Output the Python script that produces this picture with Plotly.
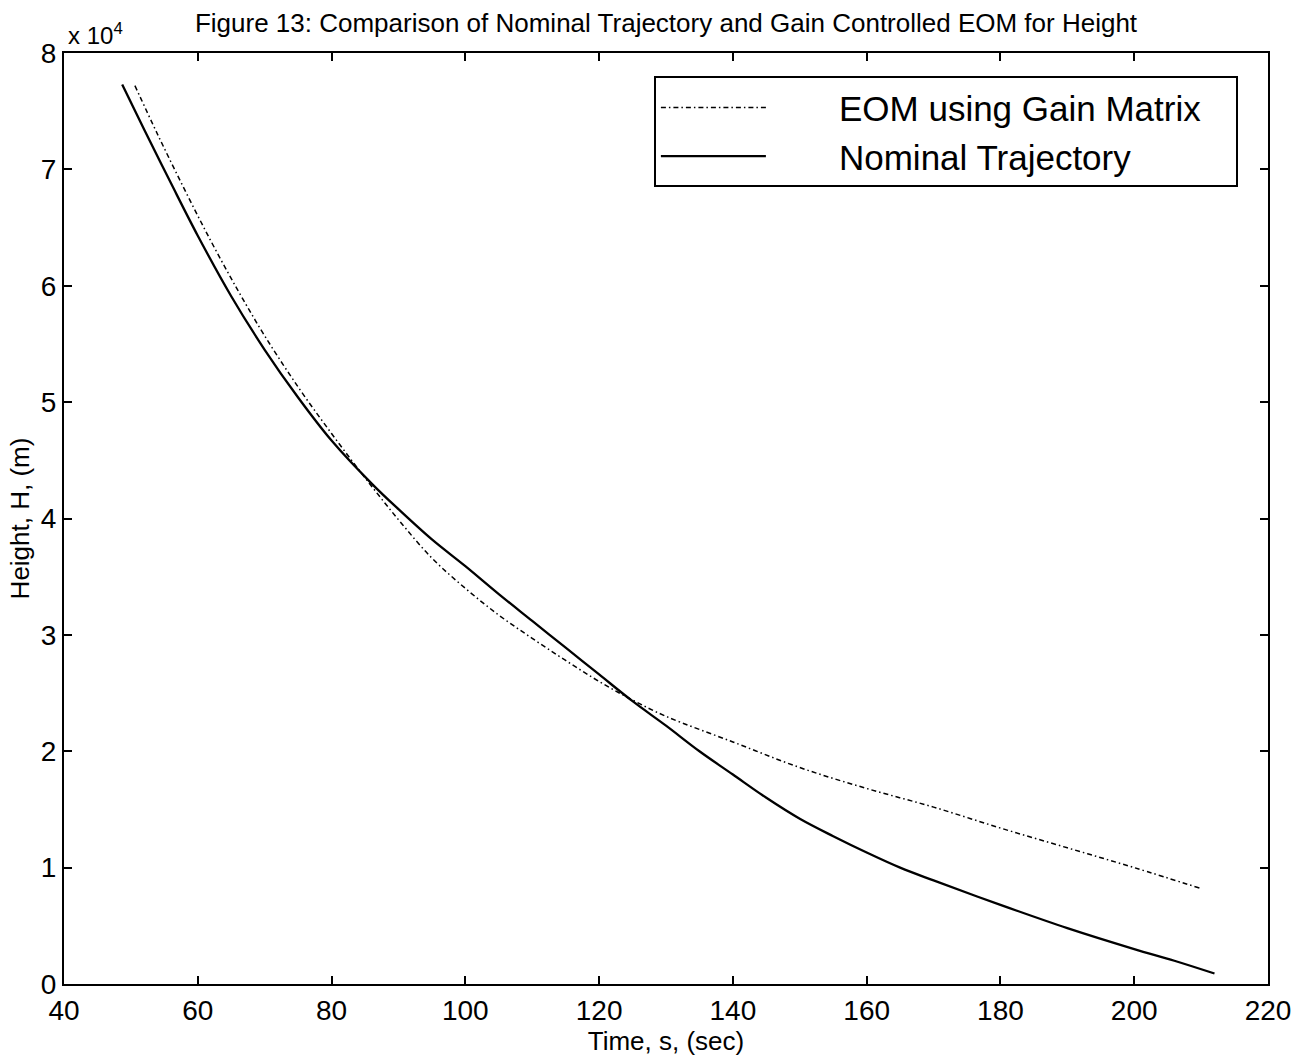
import plotly.graph_objects as go

# Nominal trajectory (solid)
t_nom = [48.7, 52, 56, 60, 65, 70, 75, 80, 86, 90, 95, 100, 105, 110, 115, 120, 125, 130,
         135, 140, 145, 150, 155, 160, 165, 170, 180, 190, 200, 206, 212]
h_nom = [77300, 73400, 68800, 64300, 59100, 54500, 50400, 46700, 43000, 40800, 38200, 35900,
         33500, 31200, 28900, 26600, 24300, 22200, 20000, 18000, 16000, 14200, 12700, 11300,
         10000, 8900, 6800, 4800, 3000, 2000, 900]

# EOM using gain matrix (dash-dot)
t_eom = [50.6, 54, 58, 62, 66, 70, 75, 80, 85, 90, 95, 100, 105, 110, 115, 120, 125, 130,
         140, 150, 160, 170, 180, 190, 200, 210]
h_eom = [77200, 73000, 68300, 63800, 59600, 55700, 51300, 47300, 43500, 39900, 36600, 34000,
         31700, 29700, 27800, 26000, 24400, 23000, 20800, 18600, 16800, 15200, 13400, 11700,
         10000, 8200]

x_ticks = [40, 60, 80, 100, 120, 140, 160, 180, 200, 220]
y_ticks = [0, 10000, 20000, 30000, 40000, 50000, 60000, 70000, 80000]
y_tick_text = ["0", "1", "2", "3", "4", "5", "6", "7", "8"]

FONT = "Arial, Liberation Sans, Helvetica, sans-serif"
NB = "\u00a0"

fig = go.Figure()
fig.add_trace(go.Scatter(x=t_eom, y=h_eom, mode="lines",
                         name=NB * 7 + "EOM using Gain Matrix" + NB * 3,
                         line=dict(color="black", width=1.5, dash="5px,3px,1.5px,3px",
                                   shape="spline")))
fig.add_trace(go.Scatter(x=t_nom, y=h_nom, mode="lines",
                         name=NB * 7 + "Nominal Trajectory",
                         line=dict(color="black", width=2.3, shape="spline")))

axis_common = dict(showgrid=False, zeroline=False, showline=True, linecolor="black",
                   linewidth=2, mirror="allticks", ticks="inside", ticklen=8,
                   tickcolor="black", tickwidth=1.5,
                   tickfont=dict(family=FONT, size=28, color="black"))

fig.update_xaxes(range=[40, 220], tickvals=x_ticks, **axis_common,
                 title=dict(text="Time, s, (sec)", font=dict(family=FONT, size=26, color="black"),
                            standoff=4))
fig.update_yaxes(range=[0, 80000], tickvals=y_ticks, ticktext=y_tick_text, **axis_common,
                 title=dict(text="Height, H, (m)", font=dict(family=FONT, size=26, color="black"),
                            standoff=4))

fig.update_layout(
    width=1305, height=1062,
    margin=dict(l=64, r=37, t=53, b=78),
    paper_bgcolor="white", plot_bgcolor="white",
    title=dict(text="Figure 13: Comparison of Nominal Trajectory and Gain Controlled EOM for Height",
               font=dict(family=FONT, size=26, color="black"),
               x=0.5, xref="paper", xanchor="center", y=0.978, yanchor="middle"),
    showlegend=True,
    legend=dict(x=0.975, y=0.975, xanchor="right", yanchor="top",
                bgcolor="white", bordercolor="black", borderwidth=2,
                font=dict(family=FONT, size=35, color="black"),
                itemwidth=105, tracegroupgap=0),
    annotations=[dict(text="x 10<sup>4</sup>", xref="paper", yref="paper", x=0.0, y=1.0,
                      xanchor="left", yanchor="bottom", showarrow=False, xshift=2, yshift=2,
                      font=dict(family=FONT, size=24, color="black"))],
)

fig.write_html("out.html")
